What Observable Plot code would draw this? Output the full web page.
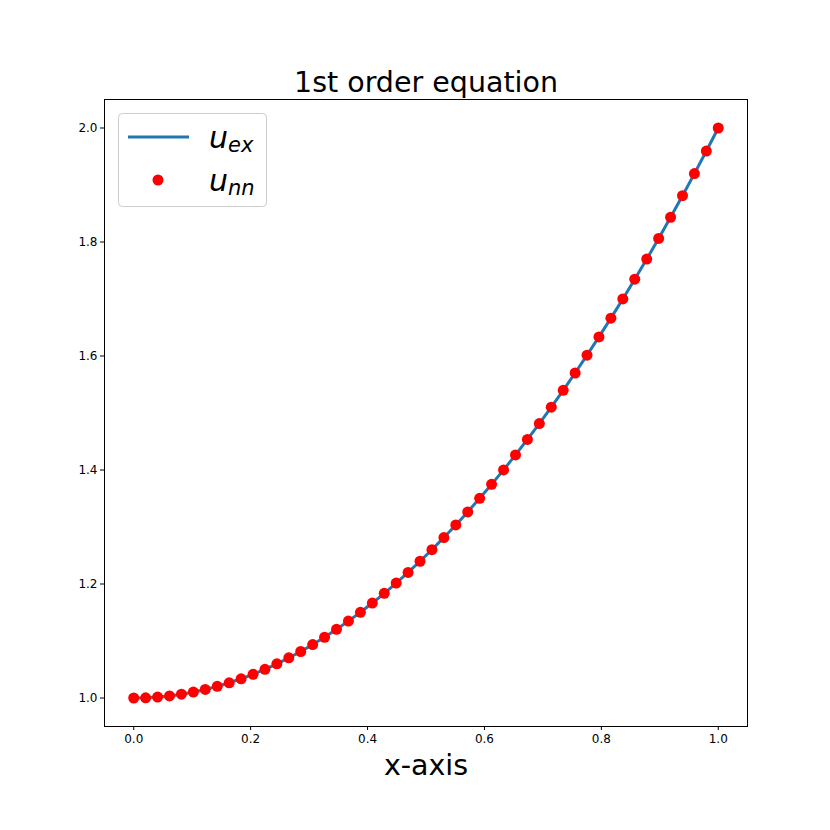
<!DOCTYPE html>
<html><head><meta charset="utf-8">
<script src="https://cdn.jsdelivr.net/npm/d3@7"></script>
<script src="https://cdn.jsdelivr.net/npm/@observablehq/plot@0.6"></script>
<style>body{margin:0;background:#fff} svg{font-family:"DejaVu Sans"}</style>
</head><body><div id="chart"></div>
<script>
const xs = [0, 0.0204, 0.0408, 0.0612, 0.0816, 0.1020, 0.1224, 0.1429, 0.1633, 0.1837,
  0.2041, 0.2245, 0.2449, 0.2653, 0.2857, 0.3061, 0.3265, 0.3469, 0.3673, 0.3878,
  0.4082, 0.4286, 0.4490, 0.4694, 0.4898, 0.5102, 0.5306, 0.5510, 0.5714, 0.5918,
  0.6122, 0.6327, 0.6531, 0.6735, 0.6939, 0.7143, 0.7347, 0.7551, 0.7755, 0.7959,
  0.8163, 0.8367, 0.8571, 0.8776, 0.8980, 0.9184, 0.9388, 0.9592, 0.9796, 1.0];
const uEx = [1.0000, 1.0004, 1.0017, 1.0037, 1.0067, 1.0104, 1.0150, 1.0204, 1.0267, 1.0337,
  1.0416, 1.0504, 1.0600, 1.0704, 1.0816, 1.0937, 1.1066, 1.1204, 1.1349, 1.1504,
  1.1666, 1.1837, 1.2016, 1.2203, 1.2399, 1.2603, 1.2815, 1.3036, 1.3265, 1.3503,
  1.3748, 1.4002, 1.4265, 1.4536, 1.4815, 1.5102, 1.5398, 1.5702, 1.6014, 1.6335,
  1.6664, 1.7001, 1.7347, 1.7701, 1.8063, 1.8434, 1.8813, 1.9200, 1.9596, 2.0000];
const uNn = [1.0000, 1.0004, 1.0017, 1.0037, 1.0067, 1.0104, 1.0150, 1.0204, 1.0267, 1.0337,
  1.0416, 1.0504, 1.0600, 1.0704, 1.0816, 1.0937, 1.1066, 1.1204, 1.1349, 1.1504,
  1.1666, 1.1837, 1.2016, 1.2203, 1.2399, 1.2603, 1.2815, 1.3036, 1.3265, 1.3503,
  1.3748, 1.4002, 1.4265, 1.4536, 1.4815, 1.5102, 1.5398, 1.5702, 1.6014, 1.6335,
  1.6664, 1.7001, 1.7347, 1.7701, 1.8063, 1.8434, 1.8813, 1.9200, 1.9596, 2.0000];
const xTicks = [0.0, 0.2, 0.4, 0.6, 0.8, 1.0];
const yTicks = [1.0, 1.2, 1.4, 1.6, 1.8, 2.0];
const titleText = "1st order equation";
const xLabel = "x-axis";

const data = xs.map((x, i) => ({x, ex: uEx[i], nn: uNn[i]}));
const fmt = d3.format(".1f");

const plot = Plot.plot({
  width: 830, height: 830,
  marginLeft: 104, marginRight: 83, marginTop: 99, marginBottom: 104,
  style: {fontFamily: "DejaVu Sans", fontSize: "12px", background: "#fff", color: "#000"},
  x: {domain: [-0.05, 1.05]},
  y: {domain: [0.95, 2.05]},
  marks: [
    Plot.axisX({ticks: xTicks, tickFormat: fmt, tickSize: 4, tickPadding: 4, label: null, fontSize: 12}),
    Plot.axisY({ticks: yTicks, tickFormat: fmt, tickSize: 4, tickPadding: 3, label: null, fontSize: 12}),
    Plot.line(data, {x: "x", y: "ex", stroke: "#1f77b4", strokeWidth: 3}),
    Plot.dot(data, {x: "x", y: "nn", r: 5.5, fill: "red", stroke: "none"}),
    Plot.frame({stroke: "#000", strokeWidth: 1}),
    Plot.text([titleText], {text: d => d, frameAnchor: "top", lineAnchor: "bottom", dy: -8, fontSize: 28.5, fill: "#000"}),
    Plot.text([xLabel], {text: d => d, frameAnchor: "bottom", lineAnchor: "bottom", dy: 48, fontSize: 28.5, fill: "#000"})
  ]
});

const svg = d3.select(plot);
const g = svg.append("g").attr("text-anchor", "start");
g.append("rect").attr("x", 118.5).attr("y", 113.5).attr("width", 148).attr("height", 93)
  .attr("rx", 4).attr("fill", "white").attr("fill-opacity", 0.8).attr("stroke", "#cccccc");
g.append("line").attr("x1", 128).attr("x2", 189).attr("y1", 137).attr("y2", 137)
  .attr("stroke", "#1f77b4").attr("stroke-width", 3);
g.append("circle").attr("cx", 158).attr("cy", 180).attr("r", 5.5).attr("fill", "red");
const legendItems = [["u", "ex", 148], ["u", "nn", 191]];
for (const [base, sub, y] of legendItems) {
  const t = g.append("text").attr("x", 209).attr("y", y).attr("font-style", "italic")
    .attr("text-anchor", "start")
    .attr("font-family", "DejaVu Sans").attr("fill", "#000");
  t.append("tspan").attr("font-size", 30).text(base);
  t.append("tspan").attr("font-size", 21).attr("dy", 4).text(sub);
}
document.getElementById("chart").appendChild(plot);
</script>
</body></html>
